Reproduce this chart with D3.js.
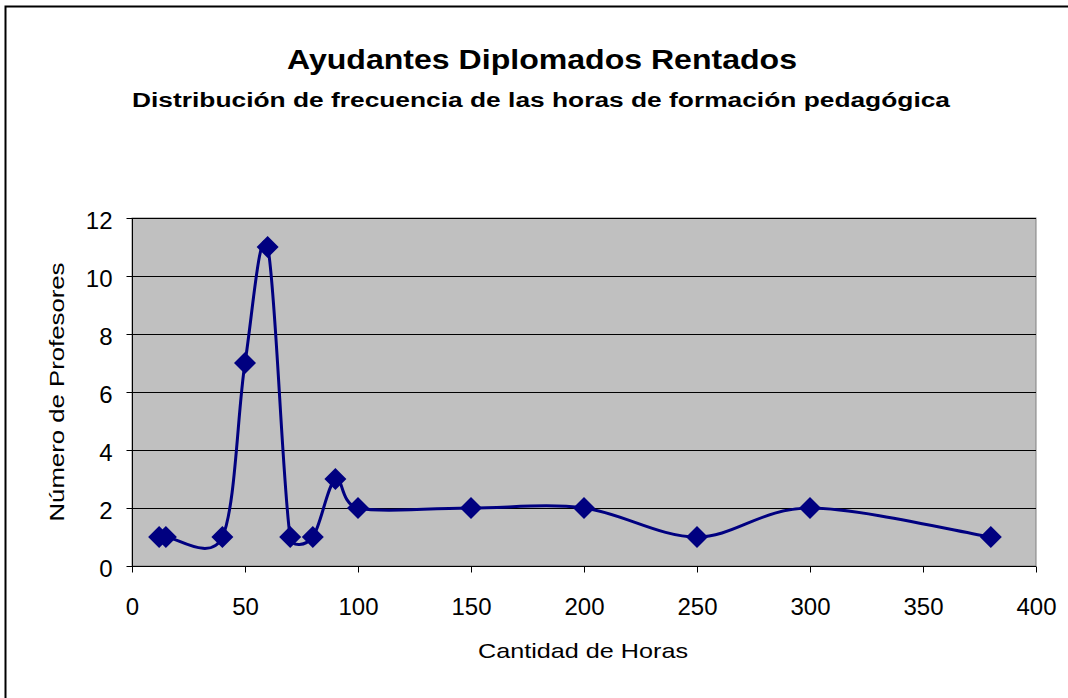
<!DOCTYPE html>
<html>
<head>
<meta charset="utf-8">
<script src="https://cdn.jsdelivr.net/npm/d3@7"></script>
<style>
  body { margin: 0; background: #fff; }
  text { font-family: "Liberation Sans", Arial, sans-serif; fill: #000; }
</style>
</head>
<body>
<svg id="chart" width="1068" height="698"></svg>
<script>
// data
const horas = [12, 15, 40, 50, 60, 70, 80, 90, 100, 150, 200, 250, 300, 380];
const profesores = [1, 1, 1, 7, 11, 1, 1, 3, 2, 2, 2, 1, 2, 1];
const xTicks = [0, 50, 100, 150, 200, 250, 300, 350, 400];
const yTicks = [0, 2, 4, 6, 8, 10, 12];

const svg = d3.select("#chart");
const plot = { left: 132, top: 218, right: 1036, bottom: 566 };

// outer frame (right/bottom run off the picture)
svg.append("rect")
  .attr("x", 5.5).attr("y", 6.5)
  .attr("width", 1100).attr("height", 800)
  .attr("fill", "none").attr("stroke", "#000").attr("stroke-width", 2);

const x = d3.scaleLinear().domain([0, 400]).range([plot.left, plot.right]);
const y = d3.scaleLinear().domain([0, 12]).range([plot.bottom, plot.top]);

// plot area
svg.append("rect")
  .attr("x", plot.left).attr("y", plot.top)
  .attr("width", plot.right - plot.left).attr("height", plot.bottom - plot.top)
  .attr("fill", "#c0c0c0").attr("stroke", "#808080").attr("stroke-width", 1);

// gridlines
svg.append("g")
  .selectAll("line")
  .data(yTicks.filter(d => d > 0))
  .join("line")
  .attr("x1", plot.left).attr("x2", plot.right)
  .attr("y1", d => Math.round(y(d)) + 0.5).attr("y2", d => Math.round(y(d)) + 0.5)
  .attr("stroke", "#000").attr("stroke-width", 1);

// axes
const xAxis = svg.append("g")
  .attr("transform", `translate(0,${plot.bottom + 0.5})`)
  .call(d3.axisBottom(x).tickValues(xTicks).tickSize(6));
const yAxis = svg.append("g")
  .attr("transform", `translate(${plot.left + 0.5},0)`)
  .call(d3.axisLeft(y).tickValues(yTicks).tickSize(6));

[xAxis, yAxis].forEach(a => {
  a.select(".domain").remove();
  a.selectAll(".tick line").attr("stroke", "#000");
  a.selectAll(".tick text")
    .attr("font-size", 24)
    .attr("font-family", "Liberation Sans, Arial, sans-serif")
    .attr("fill", "#000");
});
xAxis.selectAll(".tick text").attr("y", 48).attr("dy", 0);
yAxis.selectAll(".tick text").attr("x", -20).attr("dy", "0.45em");
xAxis.append("line").attr("x1", plot.left).attr("x2", plot.right).attr("stroke", "#000");
yAxis.append("line").attr("y1", plot.top).attr("y2", plot.bottom).attr("stroke", "#000");

// Excel-like smoothed line: cubic beziers with 1/6 tangents,
// arms kept short next to short segments so they do not overshoot
const pts = horas.map((h, i) => [x(h), y(profesores[i])]);
const smooth = d3.path();
const arm = (prev, cur, next, seg, sign) => {
  let tx = (next[0] - prev[0]) / 6, ty = (next[1] - prev[1]) / 6;
  const len = Math.hypot(tx, ty), max = 0.5 * seg;
  if (len > max) { tx *= max / len; ty *= max / len; }
  return [cur[0] + sign * tx, cur[1] + sign * ty];
};
smooth.moveTo(pts[0][0], pts[0][1]);
for (let i = 0; i < pts.length - 1; i++) {
  const p0 = pts[Math.max(i - 1, 0)], p1 = pts[i], p2 = pts[i + 1];
  const p3 = pts[Math.min(i + 2, pts.length - 1)];
  const seg = Math.hypot(p2[0] - p1[0], p2[1] - p1[1]);
  const c1 = arm(p0, p1, p2, seg, 1);
  const c2 = arm(p1, p2, p3, seg, -1);
  smooth.bezierCurveTo(c1[0], c1[1], c2[0], c2[1], p2[0], p2[1]);
}

svg.append("path")
  .attr("d", smooth.toString())
  .attr("fill", "none")
  .attr("stroke", "#000080")
  .attr("stroke-width", 3)
  .attr("stroke-linejoin", "round");

// diamond markers
svg.append("g")
  .selectAll("path")
  .data(horas.map((h, i) => [h, profesores[i]]))
  .join("path")
  .attr("transform", d => `translate(${x(d[0])},${y(d[1])})`)
  .attr("d", "M0,-11L11,0L0,11L-11,0Z")
  .attr("fill", "#000080");

// titles
svg.append("text")
  .attr("x", 542).attr("y", 69)
  .attr("text-anchor", "middle")
  .attr("font-size", 27).attr("font-weight", "bold")
  .attr("textLength", 510).attr("lengthAdjust", "spacingAndGlyphs")
  .text("Ayudantes Diplomados Rentados");
svg.append("text")
  .attr("x", 541).attr("y", 107)
  .attr("text-anchor", "middle")
  .attr("font-size", 20).attr("font-weight", "bold")
  .attr("textLength", 818).attr("lengthAdjust", "spacingAndGlyphs")
  .text("Distribución de frecuencia de las horas de formación pedagógica");

svg.append("text")
  .attr("x", 583).attr("y", 658)
  .attr("text-anchor", "middle")
  .attr("font-size", 21)
  .attr("textLength", 210).attr("lengthAdjust", "spacingAndGlyphs")
  .text("Cantidad de Horas");

svg.append("text")
  .attr("transform", `translate(64,392) rotate(-90)`)
  .attr("text-anchor", "middle")
  .attr("font-size", 21)
  .attr("textLength", 259).attr("lengthAdjust", "spacingAndGlyphs")
  .text("Número de Profesores");
</script>
</body>
</html>
